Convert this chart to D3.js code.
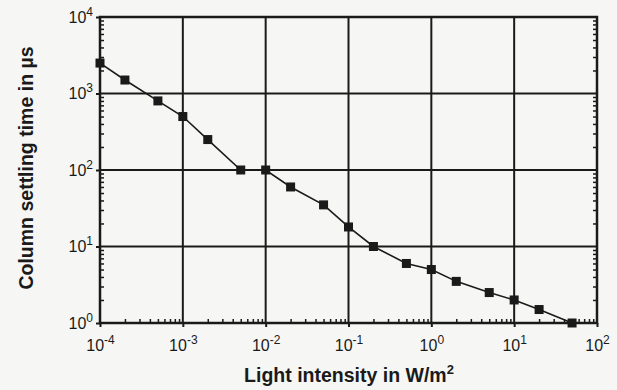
<!DOCTYPE html>
<html>
<head>
<meta charset="utf-8">
<script src="https://cdn.jsdelivr.net/npm/d3@7"></script>
<style>
  body { margin: 0; background: #f6f6f4; }
  text { font-family: "Liberation Sans", Arial, sans-serif; fill: #1a1a1a; }
</style>
</head>
<body>
<div id="chart"></div>
<script>
// light intensity (W/m^2) and settling time (µs)
var intensity = [1e-4, 2e-4, 5e-4, 1e-3, 2e-3, 5e-3, 1e-2, 2e-2, 5e-2, 1e-1, 2e-1, 5e-1, 1, 2, 5, 10, 20, 50];
var settling = [2500, 1500, 800, 500, 250, 100, 100, 60, 35, 18, 10, 6, 5, 3.5, 2.5, 2, 1.5, 1];
var xTickExp = [-4, -3, -2, -1, 0, 1, 2];
var yTickExp = [0, 1, 2, 3, 4];

var svgWidth = 617;
var svgHeight = 390;
var margin = { top: 17, right: 20, bottom: 67, left: 100 };
var width = svgWidth - margin.left - margin.right;
var height = svgHeight - margin.top - margin.bottom;

var svg = d3.select("#chart")
    .append("svg")
    .attr("width", svgWidth)
    .attr("height", svgHeight);

var chartGroup = svg.append("g")
    .attr("transform", `translate(${margin.left}, ${margin.top})`);

var xScale = d3.scaleLog().domain([1e-4, 1e2]).range([0, width]);
var yScale = d3.scaleLog().domain([1e0, 1e4]).range([height, 0]);

// minor tick values per decade
function minors(lo, hi) {
    var out = [];
    for (var e = lo; e < hi; e++) {
        for (var m = 2; m <= 9; m++) out.push(m * Math.pow(10, e));
    }
    return out;
}

// grid lines
chartGroup.selectAll(".xgrid")
    .data(xTickExp.slice(1, -1))
    .enter().append("line")
    .attr("x1", d => xScale(Math.pow(10, d)))
    .attr("x2", d => xScale(Math.pow(10, d)))
    .attr("y1", 0).attr("y2", height)
    .attr("stroke", "#1a1a1a").attr("stroke-width", 2);

chartGroup.selectAll(".ygrid")
    .data(yTickExp.slice(1, -1))
    .enter().append("line")
    .attr("y1", d => yScale(Math.pow(10, d)))
    .attr("y2", d => yScale(Math.pow(10, d)))
    .attr("x1", 0).attr("x2", width)
    .attr("stroke", "#1a1a1a").attr("stroke-width", 2);

// minor ticks (inward) on bottom, left, right
var xMinor = minors(-4, 2);
var yMinor = minors(0, 4);

chartGroup.append("g")
    .attr("transform", `translate(0, ${height})`)
    .call(d3.axisBottom(xScale).tickValues(xMinor).tickSize(-4).tickFormat(""))
    .call(g => g.select(".domain").remove())
    .call(g => g.selectAll("line").attr("stroke", "#1a1a1a").attr("stroke-width", 1.5));

chartGroup.append("g")
    .call(d3.axisLeft(yScale).tickValues(yMinor).tickSize(-4).tickFormat(""))
    .call(g => g.select(".domain").remove())
    .call(g => g.selectAll("line").attr("stroke", "#1a1a1a").attr("stroke-width", 1.5));

chartGroup.append("g")
    .attr("transform", `translate(${width}, 0)`)
    .call(d3.axisRight(yScale).tickValues(yMinor).tickSize(-4).tickFormat(""))
    .call(g => g.select(".domain").remove())
    .call(g => g.selectAll("line").attr("stroke", "#1a1a1a").attr("stroke-width", 1.5));

// major ticks with labels
var xAxis = chartGroup.append("g")
    .attr("transform", `translate(0, ${height})`)
    .call(d3.axisBottom(xScale).tickValues(xTickExp.map(e => Math.pow(10, e))).tickSize(4).tickFormat(""));
xAxis.select(".domain").remove();
xAxis.selectAll("line").attr("stroke", "#1a1a1a").attr("stroke-width", 2);
xAxis.selectAll(".tick").each(function (d, i) {
    var t = d3.select(this).append("text")
        .attr("y", 28)
        .attr("text-anchor", "middle")
        .attr("font-size", "16px")
        .attr("fill", "#1a1a1a");
    t.append("tspan").text("10");
    t.append("tspan").attr("dy", "-7").attr("font-size", "12px").text(xTickExp[i]);
});

var yAxis = chartGroup.append("g")
    .call(d3.axisLeft(yScale).tickValues(yTickExp.map(e => Math.pow(10, e))).tickSize(4).tickFormat(""));
yAxis.select(".domain").remove();
yAxis.selectAll("line").attr("stroke", "#1a1a1a").attr("stroke-width", 2);
yAxis.selectAll(".tick").each(function (d, i) {
    var t = d3.select(this).append("text")
        .attr("x", -7)
        .attr("y", 5)
        .attr("text-anchor", "end")
        .attr("font-size", "16px")
        .attr("fill", "#1a1a1a");
    t.append("tspan").text("10");
    t.append("tspan").attr("dy", "-7").attr("font-size", "12px").text(yTickExp[i]);
});

// frame
chartGroup.append("rect")
    .attr("width", width).attr("height", height)
    .attr("fill", "none")
    .attr("stroke", "#1a1a1a").attr("stroke-width", 2.5);

// data line and markers
var line = d3.line()
    .x((d, i) => xScale(intensity[i]))
    .y(d => yScale(d));

chartGroup.append("path")
    .datum(settling)
    .attr("d", line)
    .attr("fill", "none")
    .attr("stroke", "#1a1a1a")
    .attr("stroke-width", 1.6);

chartGroup.selectAll(".pt")
    .data(settling)
    .enter().append("rect")
    .attr("x", (d, i) => xScale(intensity[i]) - 4.5)
    .attr("y", d => yScale(d) - 4.5)
    .attr("width", 9).attr("height", 9)
    .attr("fill", "#1a1a1a");

// axis titles
svg.append("text")
    .attr("x", 349)
    .attr("y", 382)
    .attr("text-anchor", "middle")
    .attr("font-size", "19.5px")
    .attr("font-weight", "bold")
    .text("Light intensity in W/m")
    .append("tspan").attr("dy", -8).attr("font-size", "13px").text("2");

svg.append("text")
    .attr("transform", "rotate(-90)")
    .attr("x", -168)
    .attr("y", 33)
    .attr("text-anchor", "middle")
    .attr("font-size", "19.5px")
    .attr("font-weight", "bold")
    .text("Column settling time in µs");
</script>
</body>
</html>
